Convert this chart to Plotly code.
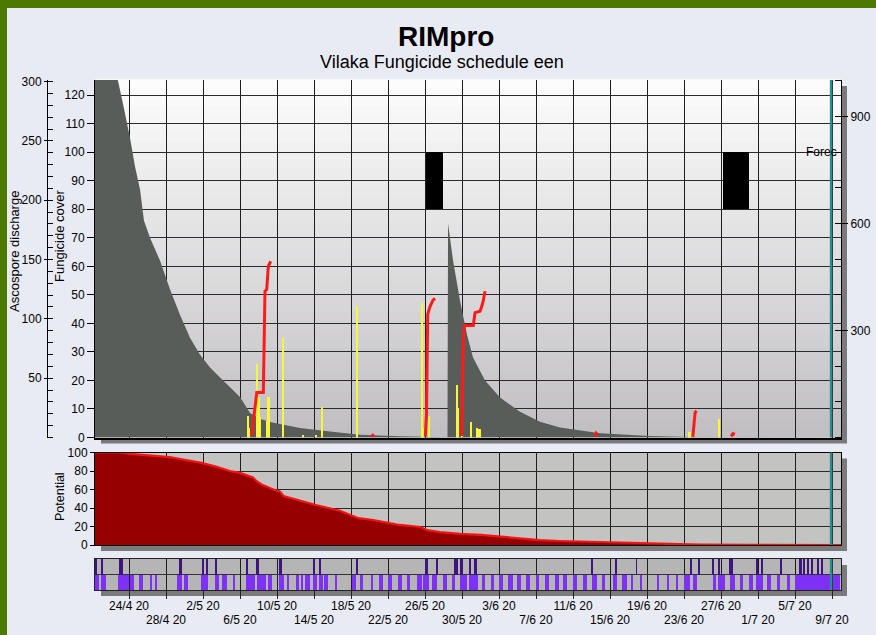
import plotly.graph_objects as go
from datetime import datetime, timedelta

# ---------------- data (days counted from 24 Apr 2020) ----------------
BASE = datetime(2020, 4, 24)
DAY_MS = 86400000

# Fungicide cover (grey area, left inner axis)
fc_days = [-3.7, -1.19, -0.65, 0.11, 0.65, 1.19, 1.62, 2.27, 3.35, 4.43, 5.51, 6.59, 7.68, 8.76,
           9.84, 10.92, 12.0, 13.08, 14.16, 15.24, 18.49, 21.73, 24.97, 29.3, 34.27, 34.43, 34.49,
           35.03, 35.78, 36.54, 37.19, 38.49, 40.11, 42.27, 44.43, 46.59, 50.92, 56.32, 61.73, 77.0]
fc_vals = [150, 125, 117, 105, 95, 87, 76, 70, 62, 52, 43, 35, 29, 24.5,
           21, 17.5, 14.2, 8.6, 6.6, 5.4, 3.3, 2.1, 1.0, 0.4, 0.1, 0.1, 75,
           62, 48, 36, 28, 20, 14, 9, 5.5, 3.5, 1.5, 0.5, 0.1, 0]

# Ascospore discharge (yellow spikes, outer left axis)
asc_days = [12.86, 13.0, 13.81, 14.0, 14.16, 14.89, 15.08, 16.62, 18.8, 20.2, 20.83, 24.65,
            31.64, 31.78, 32.43, 35.46, 35.6, 35.97, 36.94, 37.59, 37.9, 60.6, 63.78]
asc_vals = [18, 8, 62, 34, 17, 14, 34, 84, 2, 2, 26, 111,
            113, 8, 18, 44, 25, 14, 13, 8, 7, 5, 16]

# RIM infection curves (red, right axis); None separates events
rim_days = [13.26, 13.44, 13.81, 14.52, 14.62, 14.70, 14.89, 15.06, 15.32, None,
            26.2, 26.35, 26.5, None,
            32.03, 32.16, 32.29, 32.54, 32.86, 33.08, None,
            35.97, 36.14, 36.25, 37.22, 37.41, 37.95, 38.13, 38.27, 38.49, None,
            50.35, 50.5, 50.65, None,
            60.95, 61.05, 61.2, 61.35, None,
            65.1, 65.3, 65.5]
rim_vals = [4, 50, 126, 126, 300, 410, 415, 480, 494, None,
            2, 6, 3, None,
            3, 64, 345, 367, 385, 390, None,
            4, 275, 314, 314, 350, 354, 368, 380, 410, None,
            2, 12, 8, None,
            2, 40, 70, 75, None,
            3, 11, 9]

# Black blocks (fungicide cover 80-100)
block_start = [32.07, 64.2]
block_end = [33.95, 67.03]
block_low, block_high = 80, 100

# Potential
pot_days = [-3.7, -1.0, 0.1, 2.3, 4.4, 6.0, 7.7, 9.3, 10.9, 12.0, 13.4, 13.8, 14.4, 15.6, 16.3,
            16.7, 18.8, 20.3, 22.8, 24.8, 26.4, 29.0, 31.5, 32.2, 33.6, 35.8, 38.0, 40.1, 42.3,
            44.4, 46.6, 50.9, 56.3, 61.7, 67.1, 77.0]
pot_vals = [100, 100, 98.5, 97, 95, 92, 89, 85, 80, 78, 73, 69, 65, 60, 58,
            53, 47, 43, 37, 29, 27, 22, 19.5, 16, 14, 12, 11, 9, 6.5,
            5.3, 4.3, 3.3, 2.2, 0.5, 0.1, 0]

# Strip: lower row (wet periods) and upper row (rain)
wet_start = [-3.68, -3.06, -1.19, 0.11, 1.08, 2.27, 2.81, 5.19, 5.95, 7.75, 9.30, 10.02, 11.21,
             12.65, 13.81, 15.03, 16.22, 17.05, 18.05, 18.67, 19.03, 19.89, 20.57, 21.08, 22.27,
             24.08, 24.97, 26.13, 27.06, 28.03, 29.11, 30.02, 31.10, 31.82, 32.72, 33.98, 34.89,
             35.78, 36.79, 38.13, 39.10, 40.03, 41.01, 41.98, 42.92, 44.00, 44.97, 46.02, 46.95,
             47.97, 49.11, 50.02, 51.10, 52.36, 53.26, 54.24, 55.24, 57.05, 58.13, 59.14, 60.00,
             61.01, 63.10, 63.71, 64.97, 66.05, 66.99, 67.78, 68.94, 70.02, 71.10, 72.00, 76.08]
wet_end = [-3.21, -2.49, 0.0, 0.54, 1.51, 2.38, 3.03, 5.73, 6.38, 8.51, 9.76, 10.56, 11.43,
           13.62, 14.78, 15.43, 16.76, 17.33, 18.41, 18.84, 19.57, 20.36, 20.94, 21.55, 22.45,
           24.54, 25.26, 26.41, 27.43, 28.40, 29.48, 30.38, 31.64, 32.46, 33.33, 34.35, 35.24,
           36.51, 37.76, 38.49, 39.46, 40.40, 41.48, 42.38, 43.35, 44.36, 45.44, 46.45, 47.38,
           48.40, 49.48, 50.56, 51.46, 52.79, 53.81, 54.52, 55.46, 57.33, 58.35, 59.35, 60.65,
           61.44, 63.46, 64.43, 65.55, 66.41, 67.43, 68.51, 69.37, 70.38, 71.46, 75.78, 76.86]
rain_start = [-3.68, -3.06, -1.05, 5.51, 7.97, 8.32, 9.30, 12.72, 13.73, 16.25, 19.92, 20.57,
              24.54, 32.00, 33.19, 35.14, 35.43, 35.78, 36.79, 37.30, 50.02, 52.54, 54.81,
              60.72, 61.55, 63.10, 63.71, 64.90, 67.86, 68.40, 70.38, 72.46, 72.90, 73.33,
              73.81, 74.41, 74.89]
rain_end = [-3.49, -2.78, -0.62, 5.70, 8.11, 8.54, 9.55, 12.90, 14.09, 16.51, 20.11, 20.72,
            24.68, 32.36, 33.33, 35.32, 35.60, 36.14, 36.97, 37.65, 50.13, 52.73, 54.88,
            60.86, 61.73, 63.24, 63.89, 65.33, 68.03, 68.57, 70.56, 72.72, 73.08, 73.55,
            73.98, 74.63, 75.06]

forecast_start_day = 75.9

tick_days = [0, 4, 8, 12, 16, 20, 24, 28, 32, 36, 40, 44, 48, 52, 56, 60, 64, 68, 72, 76]
tick_labels = ["24/4 20", "28/4 20", "2/5 20", "6/5 20", "10/5 20", "14/5 20", "18/5 20",
               "22/5 20", "26/5 20", "30/5 20", "3/6 20", "7/6 20", "11/6 20", "15/6 20",
               "19/6 20", "23/6 20", "27/6 20", "1/7 20", "5/7 20", "9/7 20"]

# ---------------- helpers ----------------
W, H = 876, 635
FONT = "Liberation Sans, Arial, sans-serif"


def dt(d):
    return None if d is None else BASE + timedelta(days=d)


def fx(px):
    return px / W


def fy(py):
    return 1 - py / H


x_range = [dt(-3.676), dt(76.97)]
XDOM = [fx(95), fx(841)]

fig = go.Figure()

# fungicide cover
fig.add_trace(go.Scatter(x=[dt(d) for d in fc_days], y=fc_vals, xaxis="x", yaxis="y",
                         mode="lines", fill="tozeroy", fillcolor="#595d59",
                         line=dict(width=0, color="#595d59"), hoverinfo="skip"))
# black blocks
fig.add_trace(go.Bar(x=[dt((s + e) / 2) for s, e in zip(block_start, block_end)],
                     y=[block_high - block_low] * len(block_start),
                     base=[block_low] * len(block_start),
                     width=[(e - s) * DAY_MS for s, e in zip(block_start, block_end)],
                     xaxis="x", yaxis="y", marker=dict(color="black", line=dict(width=0))))
# ascospores
fig.add_trace(go.Bar(x=[dt(d) for d in asc_days], y=asc_vals, width=0.24 * DAY_MS,
                     xaxis="x", yaxis="y2", marker=dict(color="#f6f63c", line=dict(width=0))))
# RIM curves
fig.add_trace(go.Scatter(x=[dt(d) for d in rim_days], y=rim_vals, xaxis="x", yaxis="y3",
                         mode="lines", line=dict(color="#ff1a1a", width=3), connectgaps=False))
# potential
fig.add_trace(go.Scatter(x=[dt(d) for d in pot_days], y=pot_vals, xaxis="x2", yaxis="y4",
                         mode="lines", fill="tozeroy", fillcolor="#960000",
                         line=dict(color="#f01515", width=2.2)))
# strip rows
fig.add_trace(go.Bar(x=[dt((s + e) / 2) for s, e in zip(wet_start, wet_end)],
                     y=[1] * len(wet_start), base=[0] * len(wet_start),
                     width=[(e - s) * DAY_MS for s, e in zip(wet_start, wet_end)],
                     xaxis="x3", yaxis="y5", marker=dict(color="#7f30f5", line=dict(width=0))))
fig.add_trace(go.Bar(x=[dt((s + e) / 2) for s, e in zip(rain_start, rain_end)],
                     y=[1] * len(rain_start), base=[1] * len(rain_start),
                     width=[(e - s) * DAY_MS for s, e in zip(rain_start, rain_end)],
                     xaxis="x3", yaxis="y5", marker=dict(color="#3c167c", line=dict(width=0))))
# invisible carrier for second label row axis
fig.add_trace(go.Scatter(x=[dt(tick_days[1])], y=[0], xaxis="x4", yaxis="y5", mode="markers",
                         marker=dict(opacity=0), hoverinfo="skip"))

xcommon = dict(type="date", range=x_range, domain=XDOM, zeroline=False,
               showgrid=True, gridcolor="#1e1e1e", gridwidth=1)
tick_dates = [dt(d) for d in tick_days]

shapes = []
# green frame strips
shapes.append(dict(type="rect", xref="paper", yref="paper", x0=0, x1=1, y0=fy(8), y1=1,
                   fillcolor="#4c7a00", line=dict(width=0), layer="below"))
shapes.append(dict(type="rect", xref="paper", yref="paper", x0=0, x1=fx(7), y0=0, y1=1,
                   fillcolor="#4c7a00", line=dict(width=0), layer="below"))
# shadows
SH = "#7a7a7a"
for (top, bot) in [(80, 437.5), (452.5, 545), (559, 590)]:
    shapes.append(dict(type="rect", xref="paper", yref="paper", x0=fx(841), x1=fx(847),
                       y0=fy(bot + 6), y1=fy(top + 6), fillcolor=SH, line=dict(width=0), layer="below"))
    shapes.append(dict(type="rect", xref="paper", yref="paper", x0=fx(101), x1=fx(841),
                       y0=fy(bot + 6), y1=fy(bot + 0.5), fillcolor=SH, line=dict(width=0), layer="below"))
# main plot gradient background
n = 40
for i in range(n):
    t = (i + 0.5) / n
    r = round(253 - (253 - 192) * t)
    g = round(253 - (253 - 190) * t)
    b = round(253 - (253 - 193) * t)
    shapes.append(dict(type="rect", xref="x domain", yref="y domain", x0=0, x1=1,
                       y0=1 - (i + 1) / n, y1=1 - i / n + 0.002,
                       fillcolor=f"rgb({r},{g},{b})", line=dict(width=0), layer="below"))
# strip background
shapes.append(dict(type="rect", xref="x3 domain", yref="y5 domain", x0=0, x1=1, y0=0, y1=1,
                   fillcolor="#b5b5b5", line=dict(width=0), layer="below"))
# forecast line
for xr, yr in [("x", "y domain"), ("x2", "y4 domain"), ("x3", "y5 domain")]:
    shapes.append(dict(type="line", xref=xr, yref=yr, x0=dt(forecast_start_day), x1=dt(forecast_start_day),
                       y0=0, y1=1, line=dict(color="#2a8c8c", width=2.5), layer="above"))

annotations = [
    dict(text="<b>RIMpro</b>", x=fx(446), y=fy(37), xref="paper", yref="paper", showarrow=False,
         font=dict(size=28, color="black", family=FONT), xanchor="center", yanchor="middle"),
    dict(text="Vilaka Fungicide schedule een", x=fx(442), y=fy(62), xref="paper", yref="paper",
         showarrow=False, font=dict(size=18, color="black", family=FONT), xanchor="center", yanchor="middle"),
    dict(text="Ascospore discharge", x=fx(14), y=fy(252), xref="paper", yref="paper", showarrow=False,
         textangle=-90, font=dict(size=13, color="black", family=FONT), xanchor="center", yanchor="middle"),
    dict(text="Fungicide cover", x=fx(59), y=fy(236), xref="paper", yref="paper", showarrow=False,
         textangle=-90, font=dict(size=13, color="black", family=FONT), xanchor="center", yanchor="middle"),
    dict(text="Potential", x=fx(60), y=fy(497), xref="paper", yref="paper", showarrow=False,
         textangle=-90, font=dict(size=12.5, color="black", family=FONT), xanchor="center", yanchor="middle"),
    dict(text="Forec", x=fx(839), y=fy(152), xref="paper", yref="paper", showarrow=False,
         font=dict(size=12, color="black", family=FONT), xanchor="right", yanchor="middle"),
]

tickfont = dict(size=12, color="black", family=FONT)

fig.update_layout(
    width=W, height=H, autosize=False,
    margin=dict(l=0, r=0, t=0, b=0, pad=0, autoexpand=False),
    paper_bgcolor="#e9ebf4", plot_bgcolor="#c3c3c1",
    showlegend=False, barmode="overlay", bargap=0,
    font=dict(family=FONT, color="black", size=12),
    shapes=shapes, annotations=annotations,
    xaxis=dict(**xcommon, anchor="y", tick0=dt(0), dtick=4 * DAY_MS, showticklabels=False,
               ticks="", showline=True, linecolor="black", linewidth=1.5),
    yaxis=dict(domain=[fy(437.5), fy(80)], range=[0, 125.3], tick0=0, dtick=10, anchor="x",
               showgrid=True, gridcolor="#2a2a2a", gridwidth=1, zeroline=False,
               ticks="outside", ticklen=7, tickcolor="black", showline=True, linecolor="black",
               tickfont=tickfont),
    yaxis2=dict(overlaying="y", anchor="free", position=fx(47), side="left", range=[0, 301.3],
                tickmode="array", tickvals=[50, 100, 150, 200, 250, 300], ticks="outside",
                ticklen=3, tickcolor="black", showline=True, linecolor="black", showgrid=False,
                zeroline=False, tickfont=tickfont,
                minor=dict(tick0=0, dtick=10, ticks="inside", ticklen=5, tickcolor="black", showgrid=False)),
    yaxis3=dict(overlaying="y", anchor="x", side="right", range=[0, 1002], tickmode="array",
                tickvals=[300, 600, 900], ticks="outside", ticklen=6, tickcolor="black",
                showline=True, linecolor="black", showgrid=False, zeroline=False, tickfont=tickfont,
                minor=dict(tick0=0, dtick=100, ticks="inside", ticklen=6, tickcolor="black", showgrid=False)),
    xaxis2=dict(**xcommon, anchor="y4", tick0=dt(0), dtick=4 * DAY_MS, showticklabels=False,
                ticks="", showline=True, mirror=True, linecolor="black"),
    yaxis4=dict(domain=[fy(545), fy(452.5)], range=[0, 100], tick0=0, dtick=20, anchor="x2",
                showgrid=True, gridcolor="#2a2a2a", zeroline=False, ticks="outside", ticklen=4,
                tickcolor="black", showline=True, mirror=True, linecolor="black", tickfont=tickfont),
    xaxis3=dict(**xcommon, anchor="y5", tickmode="array", tickvals=tick_dates,
                ticktext=[lab if i % 2 == 0 else "" for i, lab in enumerate(tick_labels)],
                ticks="outside", ticklen=8, tickcolor="#222222", showline=True, mirror=True,
                linecolor="#222222", tickfont=tickfont, ticklabelstandoff=-3),
    yaxis5=dict(domain=[fy(590), fy(559)], range=[0, 2], anchor="x3", tickmode="array", tickvals=[1],
                showticklabels=False, ticks="", showgrid=True, gridcolor="#333333", zeroline=False,
                showline=True, mirror=True, linecolor="#222222"),
    xaxis4=dict(type="date", range=x_range, overlaying="x3", anchor="y5", side="bottom",
                tickmode="array", tickvals=tick_dates[1::2], ticktext=tick_labels[1::2],
                ticks="", showgrid=False, showline=False, zeroline=False, ticklabelstandoff=21,
                tickfont=tickfont),
)

post = ("var h=document.documentElement,b=document.body;"
        "[h,b].forEach(function(e){e.style.margin='0';e.style.padding='0';e.style.overflow='hidden';"
        "e.style.width='876px';e.style.height='635px';});"
        "var d=document.getElementById('{plot_id}');d.style.position='absolute';"
        "d.style.left='0px';d.style.top='0px';")

fig.write_html("out.html", config={"displayModeBar": False}, post_script=post)
